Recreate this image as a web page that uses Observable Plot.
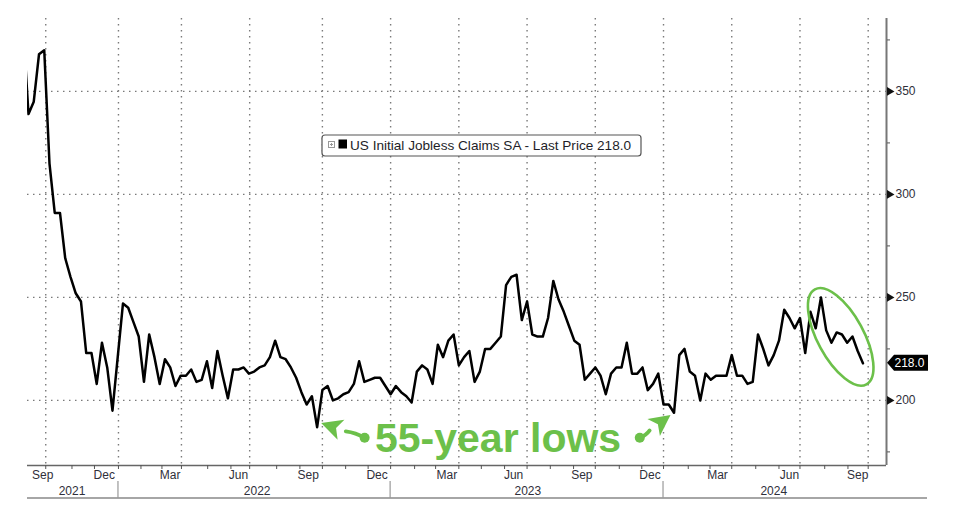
<!DOCTYPE html>
<html><head><meta charset="utf-8">
<script src="https://cdn.jsdelivr.net/npm/d3@7"></script>
<script src="https://cdn.jsdelivr.net/npm/@observablehq/plot@0.6"></script>
<style>body{margin:0;background:#fff} svg{display:block}</style>
</head><body><div id="chart"></div>
<script>
// Weekly US initial jobless claims, SA (thousands), weeks ending on Saturdays
const start2021 = "2021-08-28";
const claims2021 = [380, 339, 345, 368, 370, 315, 291, 291, 269, 260, 252, 248, 223, 223, 208, 228, 216, 195];
const start2022 = "2022-01-01";
const claims2022 = [221, 247, 245, 238, 231, 209, 232, 221, 208, 220, 216, 207, 212, 212, 215, 209, 210, 219, 206, 224, 212, 201, 215, 215, 216, 213, 214, 216, 217, 221, 229, 221, 220, 216, 211, 204, 198, 202, 187, 205, 207, 200, 201, 203, 204, 208, 219, 209, 210, 211, 211, 207, 203];
const start2023 = "2023-01-07";
const claims2023 = [207, 204, 202, 199, 214, 217, 215, 208, 227, 221, 229, 232, 217, 221, 224, 209, 214, 225, 225, 228, 231, 256, 260, 261, 239, 248, 232, 231, 231, 240, 258, 249, 243, 236, 229, 227, 210, 213, 216, 212, 203, 213, 216, 216, 228, 213, 213, 216, 205, 208, 213, 198];
const start2024 = "2024-01-06";
const claims2024 = [198, 194, 222, 225, 214, 212, 200, 213, 210, 212, 212, 212, 222, 212, 212, 208, 209, 232, 225, 217, 222, 229, 244, 240, 235, 240, 223, 243, 235, 250, 234, 228, 233, 232, 228, 231, 224, 218];

const seriesName = "US Initial Jobless Claims SA";
const lastPrice = 218.0;
const annotationText = "55-year lows";

// Axes / ticks
const xDomain = ["2021-09-02T16:00Z", "2024-10-22T10:00Z"];
const yDomain = [168.4, 385.4];
const yTicks = [200, 250, 300, 350];
const yMinorTicks = [175, 225, 275, 325, 375];
const gridDates = ["2021-09-27","2022-01-02","2022-03-27","2022-06-26","2022-10-01","2022-12-31","2023-04-01","2023-07-01","2023-09-30","2023-12-30","2024-03-30","2024-06-29","2024-09-28"];
const monthLabelDates = ["2021-09-23","2021-12-14","2022-03-12","2022-06-11","2022-09-12","2022-12-13","2023-03-16","2023-06-13","2023-09-12","2023-12-12","2024-03-11","2024-06-15","2024-09-14"];
const yearLabelDates = ["2021-11-01","2022-07-06","2023-07-02","2024-05-25"];
const yearBreakDates = ["2022-01-02","2022-12-31","2023-12-30"];

// Annotation anchors (data coordinates)
const arrowLeft = {tail: ["2022-11-27", 181.6], tip: ["2022-09-30", 188.8]};
const arrowRight = {tail: ["2023-11-29", 181.6], tip: ["2024-01-09", 192.7]};
const labelAt = ["2023-05-24", 174.9];
const ellipseAt = ["2024-08-23", 230.6];

const green = "#6cc04a";
const FONT = "'Liberation Sans', Arial, sans-serif";
const D = s => new Date(s);

const data = [[start2021, claims2021],[start2022, claims2022],[start2023, claims2023],[start2024, claims2024]]
  .flatMap(([s, vals]) => vals.map((v, k) => ({date: d3.utcDay.offset(D(s), 7 * k), value: v})));

const monthTicks = d3.utcMonth.range(D("2021-10-01"), D("2024-10-02"))
  .filter(d => d.getUTCMonth() % 3 !== 0).concat(gridDates.map(D));

const dotted = {stroke: "#7a7a7a", strokeWidth: 1.4, strokeDasharray: "1.5,4.5"};

const plot = Plot.plot({
  width: 957, height: 512,
  marginLeft: 27, marginRight: 71, marginTop: 18, marginBottom: 47,
  style: {fontFamily: FONT, fontSize: "12px", color: "#333", background: "#fff"},
  x: {type: "utc", domain: xDomain.map(D), axis: null},
  y: {domain: yDomain, axis: null},
  marks: [
    Plot.ruleY(yTicks, dotted),
    Plot.ruleX(gridDates.map(D), dotted),
    Plot.ruleY([yDomain[0]], {stroke: "#666", strokeWidth: 1.5}),
    Plot.ruleX([D(xDomain[1])], {stroke: "#777", strokeWidth: 2}),
    Plot.axisX({ticks: monthTicks, tickSize: 4, tickFormat: () => "", label: null, stroke: "#555"}),
    Plot.axisX({ticks: monthLabelDates.map(D), tickSize: 0, tickPadding: 5, tickFormat: d3.utcFormat("%b"), label: null, fontSize: 12, fill: "#2f2f3a"}),
    Plot.axisX({ticks: yearLabelDates.map(D), tickSize: 0, tickPadding: 20.5, tickFormat: d3.utcFormat("%Y"), label: null, fontSize: 12, fill: "#2f2f3a"}),
    Plot.axisY({anchor: "right", ticks: yMinorTicks, tickSize: 3, tickFormat: () => "", label: null, stroke: "#555"}),
    Plot.axisY({anchor: "right", ticks: yTicks, tickSize: 0, tickPadding: 9, label: null, fontSize: 12, fill: "#2f2f3a"}),
    Plot.dot(yTicks, {y: d => d, frameAnchor: "right", symbol: "triangle", rotate: 90, r: 3.2, fill: "#111", dx: 3}),
    Plot.line(data, {x: "date", y: "value", stroke: "#000", strokeWidth: 2.5, clip: "frame"})
  ]
});

const X = plot.scale("x"), Y = plot.scale("y");
const svg = d3.select(plot);
const px = ([d, v]) => [X.apply(D(d)), Y.apply(v)];

// Year row: separators and bottom rule
const bottomY = 498;
svg.append("line").attr("x1", 27).attr("x2", 927).attr("y1", bottomY).attr("y2", bottomY)
  .attr("stroke", "#888").attr("stroke-width", 1.3);
for (const d of yearBreakDates) {
  const x = X.apply(D(d));
  svg.append("line").attr("x1", x).attr("x2", x).attr("y1", 481).attr("y2", bottomY)
    .attr("stroke", "#999").attr("stroke-width", 1.2);
}

// Last price tag
{
  const yv = Y.apply(lastPrice), x0 = 887;
  svg.append("path").attr("d", `M${x0},${yv} L${x0+7},${yv-8} L${x0+41},${yv-8} L${x0+41},${yv+8} L${x0+7},${yv+8} Z`).attr("fill", "#000");
  svg.append("text").attr("x", x0 + 7.5).attr("y", yv + 4.3).attr("fill", "#fff").attr("text-anchor", "start")
    .attr("font-family", FONT).attr("font-size", 12).text(lastPrice.toFixed(1));
}

// Legend box
{
  const g = svg.append("g");
  g.append("rect").attr("x", 322).attr("y", 135).attr("width", 319).attr("height", 21).attr("rx", 3)
    .attr("fill", "#fff").attr("stroke", "#555").attr("stroke-width", 1.2);
  g.append("rect").attr("x", 328.5).attr("y", 141.5).attr("width", 6).attr("height", 6).attr("fill", "#fff").attr("stroke", "#999");
  g.append("path").attr("d", "M330,144.5H333M331.5,143V146").attr("stroke", "#999");
  g.append("rect").attr("x", 338.5).attr("y", 139.5).attr("width", 8.5).attr("height", 9).attr("fill", "#000");
  g.append("text").attr("x", 350).attr("y", 149.5).attr("fill", "#1e1e28").attr("text-anchor", "start")
    .attr("font-family", FONT).attr("font-size", 13.6)
    .text(`${seriesName} - Last Price ${lastPrice.toFixed(1)}`);
}

// Ellipse around recent decline
{
  const [cx, cy] = px(ellipseAt);
  svg.append("ellipse").attr("cx", 0).attr("cy", 0).attr("rx", 23).attr("ry", 54)
    .attr("transform", `translate(${cx},${cy}) rotate(-28.5)`)
    .attr("fill", "none").attr("stroke", green).attr("stroke-width", 2.6);
}

// Arrows
function arrow({tail, tip}) {
  const [tx, ty] = px(tail), [hx, hy] = px(tip);
  const len = Math.hypot(hx - tx, hy - ty), ux = (hx - tx) / len, uy = (hy - ty) / len;
  const nx = -uy, ny = ux, L = 21, W = 10.5;
  const bx = hx - L * ux, by = hy - L * uy;
  const notchx = hx - 0.75 * L * ux, notchy = hy - 0.75 * L * uy;
  svg.append("path").attr("d", `M${hx},${hy} L${bx + W*nx},${by + W*ny} L${notchx},${notchy} L${bx - W*nx},${by - W*ny} Z`).attr("fill", green);
  const sx = hx - 26 * ux, sy = hy - 26 * uy;
  svg.append("path").attr("d", `M${tx},${ty} Q${(tx+sx)/2 + 2*nx},${(ty+sy)/2 + 2*ny} ${sx},${sy}`)
    .attr("stroke", green).attr("stroke-width", 3.8).attr("fill", "none").attr("stroke-linecap", "round");
  svg.append("circle").attr("cx", tx).attr("cy", ty).attr("r", 5).attr("fill", green);
}
arrow(arrowLeft);
arrow(arrowRight);

{
  const [lx, ly] = px(labelAt);
  svg.append("text").attr("x", lx).attr("y", ly).attr("text-anchor", "middle").attr("fill", green)
    .attr("font-family", FONT).attr("font-weight", "bold").attr("font-size", 41)
    .text(annotationText);
}

document.getElementById("chart").append(plot);
</script>
</body></html>
